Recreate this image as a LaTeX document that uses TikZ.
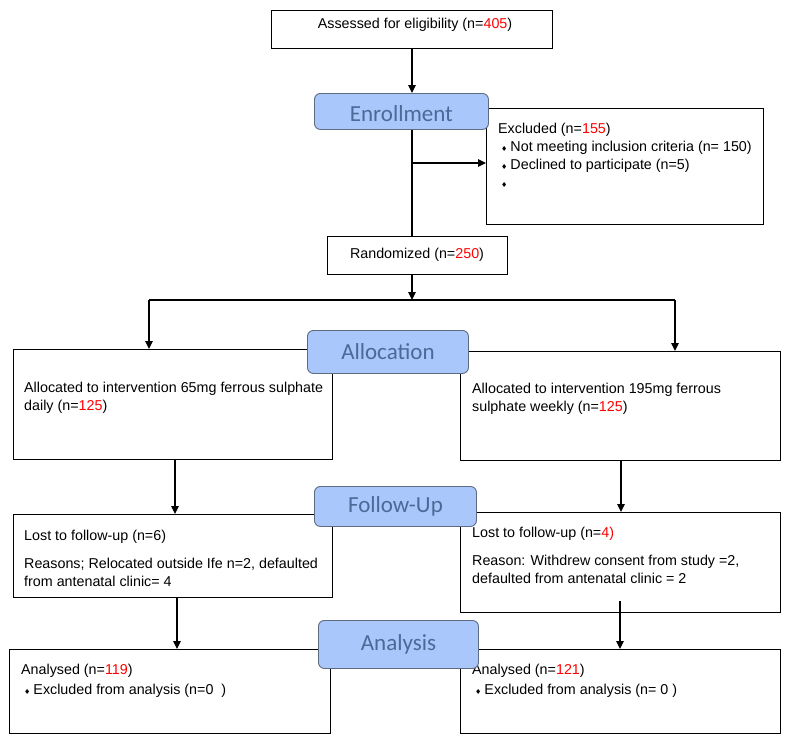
\documentclass[tikz,border=0pt]{standalone}
\usepackage{fontspec}
\setmainfont{Liberation Sans}
\newfontfamily\stagefont{Carlito}
\newfontfamily\symfont{DejaVu Sans}
\usetikzlibrary{arrows.meta}
\definecolor{stagefill}{HTML}{A9C7FA}
\definecolor{stagedraw}{HTML}{5E6B80}
\definecolor{stagetext}{HTML}{4A6A98}
\definecolor{nred}{HTML}{FF0000}
\newcommand{\nr}[1]{\textcolor{nred}{#1}}
\newcommand{\dia}{{\symfont\fontsize{7}{7}\selectfont ♦}}
\newcommand{\lines}[1]{\begin{tabular}[t]{@{}l@{}}#1\end{tabular}}
\tikzset{
 box/.style={draw=black, line width=0.9pt, anchor=north west, inner sep=0pt, fill=white},
 ctext/.style={inner sep=0pt, font=\fontsize{14.3}{18}\selectfont},
 stage/.style={draw=stagedraw, fill=stagefill, rounded corners=6pt, line width=0.9pt, anchor=north west, inner sep=0pt, text=stagetext, font=\stagefont\fontsize{23}{23}\selectfont},
 txt/.style={anchor=base west, inner sep=0pt, font=\fontsize{14.3}{18}\selectfont},
 arr/.style={line width=1.2pt, -{Triangle[length=8pt,width=7.5pt]}},
 ln/.style={line width=1.2pt}
}
\begin{document}
\begin{tikzpicture}[x=1pt,y=-1pt]
\useasboundingbox[fill=white] (0,0) rectangle (790,742);
% boxes
\node[box, minimum width=281pt, minimum height=38pt] (assess) at (271,10) {};
\node[box, minimum width=277pt, minimum height=116pt] (excl) at (486,108) {};
\node[box, minimum width=180pt, minimum height=38pt] (rand) at (327,236) {};
\node[box, minimum width=319pt, minimum height=110pt] (alL) at (13,349) {};
\node[box, minimum width=320pt, minimum height=109pt] (alR) at (460,351) {};
\node[box, minimum width=319pt, minimum height=83pt] (fuL) at (13,514) {};
\node[box, minimum width=320pt, minimum height=100pt] (fuR) at (460,512) {};
\node[box, minimum width=321pt, minimum height=84pt] (anL) at (9,649) {};
\node[box, minimum width=320pt, minimum height=84pt] (anR) at (460,649) {};
% texts
\node[ctext] (assesst) at (415,25) {Assessed for eligibility (n=\nr{405})};
\node[ctext] (randt) at (417,255) {Randomized (n=\nr{250})};
\node[txt] (exclt) at (498,133) {\lines{Excluded (n=\nr{155})\\
\hspace*{3pt}\dia\hspace*{3pt}Not meeting inclusion criteria (n= 150)\\
\hspace*{3pt}\dia\hspace*{3pt}Declined to participate (n=5)\\
\hspace*{3pt}\dia}};
\node[txt] (alLt) at (24,392) {\lines{Allocated to intervention 65mg ferrous sulphate\\daily (n=\nr{125})}};
\node[txt] (alRt) at (472,393) {\lines{Allocated to intervention 195mg ferrous\\sulphate weekly (n=\nr{125})}};
\node[txt] (fuLt) at (24,540) {\lines{Lost to follow-up (n=6)\\[10pt]Reasons; Relocated outside Ife n=2, defaulted\\from antenatal clinic= 4}};
\node[txt] (fuRt) at (472,537) {\lines{Lost to follow-up (n=\nr{4)}\\[10pt]Reason: Withdrew consent from study =2,\\defaulted from antenatal clinic = 2}};
\node[txt] (anLt) at (21,674) {\lines{Analysed (n=\nr{119})\\[2pt]\hspace*{3pt}\dia\hspace*{3pt}Excluded from analysis (n=0~~)}};
\node[txt] (anRt) at (472,674) {\lines{Analysed (n=\nr{121})\\[2pt]\hspace*{3pt}\dia\hspace*{3pt}Excluded from analysis (n= 0 )}};
% stages
\node[stage, minimum width=174pt, minimum height=36pt, text height=21pt, text depth=0pt] (enrol) at (314,93) {Enrollment};
\node[stage, minimum width=161pt, minimum height=43pt] (alloc) at (307,330) {Allocation};
\node[stage, minimum width=162pt, minimum height=40pt] (fu) at (314,486) {Follow-Up};
\node[stage, minimum width=160pt, minimum height=48pt] (ana) at (318,620) {Analysis};
% connectors
\coordinate (xc) at (412,0);
\coordinate (exj) at (412,163);
\coordinate (split) at (412,300);
\coordinate (sl) at (149,300);
\coordinate (sr) at (675,300);
\coordinate (xl1) at (175,0);
\coordinate (xr1) at (621,0);
\coordinate (xl2) at (177,0);
\coordinate (xr2) at (620,0);
\draw[arr] (assess.south -| xc) -- (enrol.north -| xc);
\draw[ln] (enrol.south -| xc) -- (rand.north -| xc);
\draw[arr] (exj) -- (exj -| excl.west);
\draw[arr] (rand.south -| xc) -- (split);
\draw[ln] (sl) -- (sr);
\draw[arr] (sl) -- (sl |- alL.north);
\draw[arr] (sr) -- (sr |- alR.north);
\draw[arr] (xl1 |- alL.south) -- (xl1 |- fuL.north);
\draw[arr] (xr1 |- alR.south) -- (xr1 |- fuR.north);
\draw[arr] (xl2 |- fuL.south) -- (xl2 |- anL.north);
\draw[arr] ([yshift=12pt]xr2 |- fuR.south) -- (xr2 |- anR.north);
\end{tikzpicture}
\end{document}
